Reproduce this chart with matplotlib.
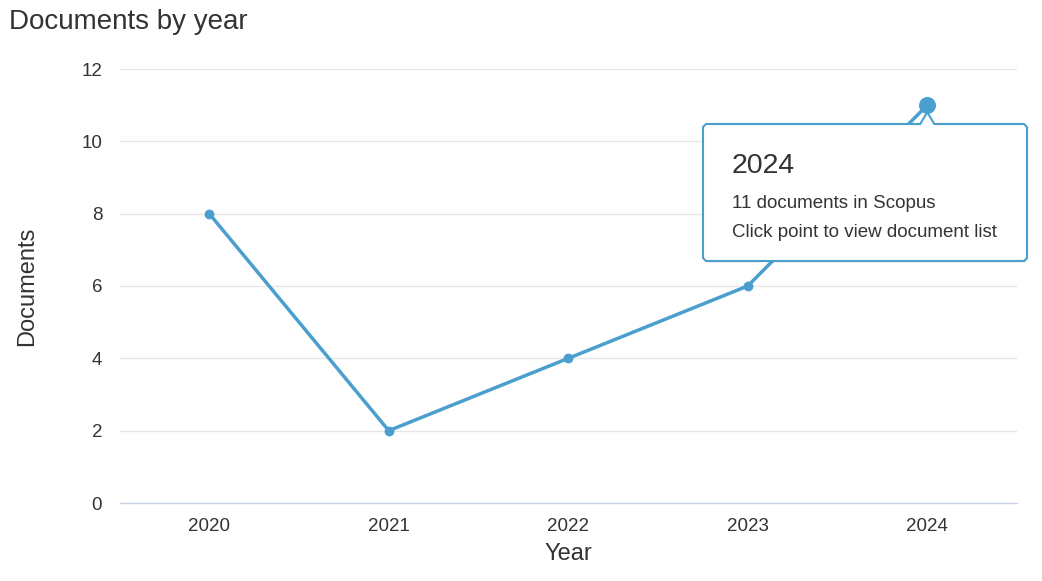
import matplotlib
matplotlib.use("Agg")
import matplotlib.pyplot as plt
from matplotlib.path import Path
from matplotlib.patches import PathPatch
from matplotlib.transforms import IdentityTransform

years = ["2020", "2021", "2022", "2023", "2024"]
documents = [8, 2, 4, 6, 11]
y_ticks = [0, 2, 4, 6, 8, 10, 12]
tooltip_title = "2024"
tooltip_lines = ["11 documents in Scopus", "Click point to view document list"]

W, H = 1042, 581
plt.rcParams['font.family'] = ['Liberation Sans', 'DejaVu Sans']
fig = plt.figure(figsize=(W / 100, H / 100), dpi=100)
ax = fig.add_axes([119.5 / W, 1 - 503 / H, (1017 - 119.5) / W, (503 - 69) / H])

line_color = "#4a9fcf"
text_color = "#333333"
x = list(range(len(years)))
ax.plot(x, documents, color=line_color, lw=2.5, zorder=3, solid_capstyle='round')
ax.scatter(x[:-1], documents[:-1], s=50, color=line_color, zorder=4, linewidths=0)
ax.scatter(x[-1:], documents[-1:], s=150, color=line_color, zorder=4, linewidths=0)

ax.set_xlim(-0.5, len(years) - 0.5)
ax.set_ylim(0, 12)
ax.set_yticks(y_ticks)
ax.set_xticks(x)
ax.set_xticklabels(years)
ax.tick_params(axis='both', length=0, labelsize=13.5, colors=text_color)
ax.tick_params(axis='y', pad=12.5)
ax.tick_params(axis='x', pad=10.5)
for s in ["top", "right", "left"]:
    ax.spines[s].set_visible(False)
ax.spines["bottom"].set_color("#ccd6eb")
ax.spines["bottom"].set_linewidth(1)
ax.grid(axis='y', color="#e6e6e6", lw=1)
ax.set_axisbelow(True)

fig.text(27 / W, 1 - 286 / H, "Documents", fontsize=17, color=text_color,
         rotation=90, ha='center', va='center')
fig.text(568 / W, 1 - 554 / H, "Year", fontsize=17, color=text_color,
         ha='center', va='center')
fig.text(9 / W, 1 - 22 / H, "Documents by year", fontsize=20, color=text_color,
         ha='left', va='center')

# Tooltip (pixel coordinates, origin top-left converted to display)
fig.canvas.draw()
px, py = ax.transData.transform((x[-1], documents[-1]))
def P(xx, yy):
    return (xx, H - yy)
left, right, top, bot = 703, 1027, 124, 261
apex_x = px
apex_y = H - py + 7
r = 3
verts = [P(left + r, top), P(apex_x - 7, top), P(apex_x, apex_y), P(apex_x + 7, top),
         P(right - r, top), P(right, top + r), P(right, bot - r), P(right - r, bot),
         P(left + r, bot), P(left, bot - r), P(left, top + r), P(left + r, top)]
codes = [Path.MOVETO] + [Path.LINETO] * (len(verts) - 2) + [Path.CLOSEPOLY]
shadow = PathPatch(Path([(vx + 1.5, vy - 1.5) for vx, vy in verts], codes),
                   transform=IdentityTransform(), facecolor=(0, 0, 0, 0.08),
                   edgecolor='none', zorder=9)
fig.patches.append(shadow)
tip = PathPatch(Path(verts, codes), transform=IdentityTransform(), facecolor='white',
                edgecolor=line_color, lw=1.5, zorder=10)
fig.patches.append(tip)
fig.text(732 / W, 1 - 166 / H, tooltip_title, fontsize=20.5, color=text_color,
         ha='left', va='center', zorder=11)
for i, t in enumerate(tooltip_lines):
    fig.text(732 / W, 1 - (203.5 + 29 * i) / H, t, fontsize=13.5, color=text_color,
             ha='left', va='center', zorder=11)

fig.savefig("out.png", dpi=100)
